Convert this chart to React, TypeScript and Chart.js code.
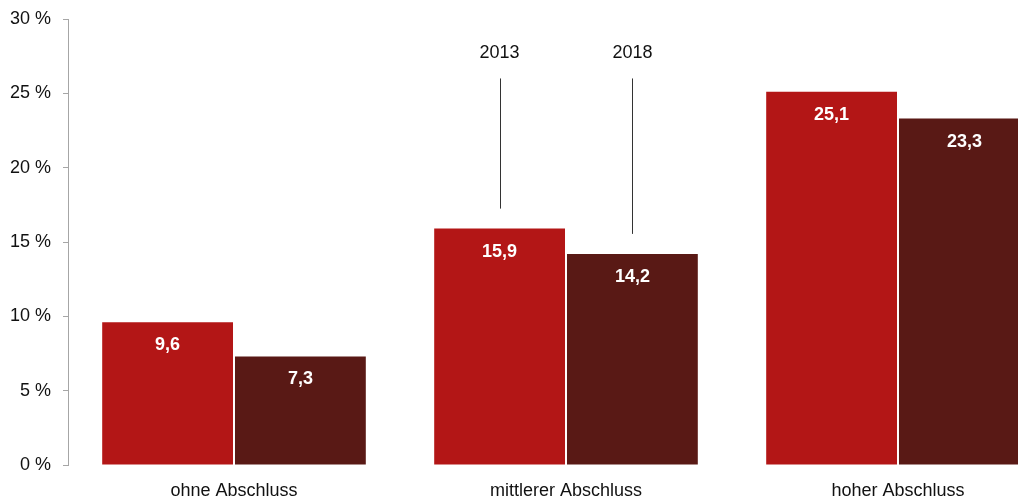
import React, { useEffect, useRef } from "react";
import { Chart, registerables } from "chart.js";

Chart.register(...registerables);

const categories = ["ohne Abschluss", "mittlerer Abschluss", "hoher Abschluss"];
const series2013 = [9.6, 15.9, 25.1];
const series2018 = [7.3, 14.2, 23.3];
const seriesLabels = ["2013", "2018"];
const yTicks = [0, 5, 10, 15, 20, 25, 30];
const annotationCategoryIndex = 1;
const annotationLineTop = 26;
const annotationLabelValue = 27.7;

const FONT = "'Liberation Sans', Arial, sans-serif";
const RED = "#b31616";
const DARK = "#591915";

const labelsPlugin = {
  id: "customLabels",
  afterDatasetsDraw(chart: any) {
    const { ctx, scales } = chart;
    const y = scales.y;
    ctx.save();
    chart.data.datasets.forEach((ds: any, di: number) => {
      const meta = chart.getDatasetMeta(di);
      meta.data.forEach((bar: any, i: number) => {
        const v = ds.data[i];
        ctx.fillStyle = "#ffffff";
        ctx.font = `bold 18px ${FONT}`;
        ctx.textAlign = "center";
        ctx.textBaseline = "middle";
        ctx.fillText(String(v).replace(".", ","), bar.x, bar.y + 23);
      });
    });
    chart.data.datasets.forEach((ds: any, di: number) => {
      const meta = chart.getDatasetMeta(di);
      const bar = meta.data[annotationCategoryIndex];
      const x = Math.round(bar.x) + 0.5;
      const top = y.getPixelForValue(annotationLineTop);
      const bottom = bar.y - 20;
      ctx.strokeStyle = "#333333";
      ctx.lineWidth = 1;
      ctx.beginPath();
      ctx.moveTo(x, top);
      ctx.lineTo(x, bottom);
      ctx.stroke();
      ctx.fillStyle = "#111111";
      ctx.font = `18px ${FONT}`;
      ctx.textAlign = "center";
      ctx.textBaseline = "middle";
      ctx.fillText(seriesLabels[di], bar.x, y.getPixelForValue(annotationLabelValue));
    });
    ctx.restore();
  },
};

export default function App() {
  const ref = useRef<HTMLCanvasElement>(null);
  useEffect(() => {
    document.body.style.margin = "0";
    const chart = new Chart(ref.current as HTMLCanvasElement, {
      type: "bar",
      data: {
        labels: categories,
        datasets: [
          {
            label: seriesLabels[0],
            data: series2013,
            backgroundColor: RED,
            borderWidth: 0,
            categoryPercentage: 0.8,
            barPercentage: 0.985,
          },
          {
            label: seriesLabels[1],
            data: series2018,
            backgroundColor: DARK,
            borderWidth: 0,
            categoryPercentage: 0.8,
            barPercentage: 0.985,
          },
        ],
      },
      options: {
        animation: false,
        responsive: false,
        events: [],
        layout: { padding: { left: 0, top: 19, right: 0, bottom: 0 } },
        plugins: {
          legend: { display: false },
          tooltip: { enabled: false },
        },
        scales: {
          x: {
            grid: { display: false, drawTicks: false },
            border: { display: false },
            ticks: {
              color: "#111111",
              font: { family: FONT, size: 18 },
              padding: 15,
            },
            afterFit: (axis: any) => {
              axis.height = 36;
            },
          },
          y: {
            min: 0,
            max: 30,
            afterBuildTicks: (axis: any) => {
              axis.ticks = yTicks.map((v) => ({ value: v }));
            },
            afterFit: (axis: any) => {
              axis.width = 68;
              axis.paddingTop = 0;
              axis.paddingBottom = 0;
            },
            grid: {
              display: true,
              drawOnChartArea: false,
              drawTicks: true,
              tickLength: 5,
              color: "#a6a6a6",
            },
            border: { display: true, color: "#a6a6a6", width: 1 },
            ticks: {
              color: "#111111",
              font: { family: FONT, size: 18, lineHeight: 1 },
              padding: 12,
              callback: (v: any) => `${v} %`,
            },
          },
        },
      },
      plugins: [labelsPlugin],
    });
    return () => chart.destroy();
  }, []);
  return (
    <div style={{ position: "fixed", left: 0, top: 0, width: 1018, height: 501, overflow: "hidden", background: "#fff" }}>
      <canvas ref={ref} width={1064} height={501} style={{ display: "block" }} />
    </div>
  );
}
